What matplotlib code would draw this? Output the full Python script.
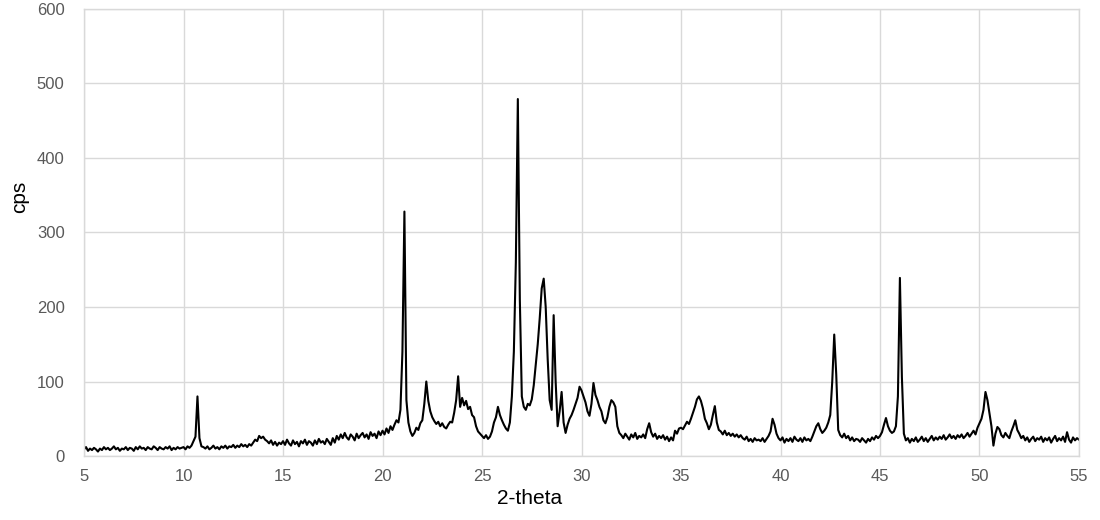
import numpy as np
import matplotlib
matplotlib.use("Agg")
import matplotlib.pyplot as plt

# XRD scan: 2-theta from 5 to 55 deg, step 0.1
scan_start = 5.0
scan_step = 0.1

# cps values, one row per degree (x.0 ... x.9)
cps = [
    9, 12, 7, 10, 8, 11, 9, 6, 10, 8,            # 5
    12, 9, 11, 8, 10, 13, 9, 11, 7, 10,          # 6
    9, 12, 8, 11, 10, 7, 12, 9, 13, 10,          # 7
    11, 8, 12, 10, 9, 13, 11, 8, 12, 10,         # 8
    9, 12, 10, 13, 8, 11, 9, 12, 10, 11,         # 9
    12, 9, 13, 11, 14, 20, 26, 80, 24, 13,       # 10
    12, 10, 13, 9, 11, 14, 10, 12, 9, 13,        # 11
    11, 14, 10, 13, 12, 15, 11, 14, 12, 16,      # 12
    13, 15, 12, 16, 14, 18, 22, 20, 27, 24,      # 13
    26, 22, 20, 17, 21, 15, 19, 14, 18, 16,      # 14
    20, 15, 22, 17, 14, 21, 16, 19, 13, 20,      # 15
    17, 22, 15, 20, 18, 14, 21, 16, 23, 18,      # 16
    20, 16, 23, 19, 15, 24, 18, 27, 22, 29,      # 17
    24, 31, 25, 22, 29, 26, 21, 30, 24, 28,      # 18
    31, 25, 29, 23, 32, 27, 30, 24, 33, 28,      # 19
    34, 29, 37, 31, 40, 35, 42, 48, 45, 62,      # 20
    140, 328, 75, 45, 33, 27, 31, 38, 35, 44,    # 21
    48, 70, 100, 74, 60, 52, 47, 43, 46, 40,     # 22
    44, 39, 37, 42, 46, 45, 58, 75, 107, 66,     # 23
    78, 68, 74, 63, 66, 55, 52, 40, 33, 30,      # 24
    27, 24, 28, 23, 26, 33, 45, 52, 66, 55,      # 25
    48, 42, 37, 34, 45, 80, 140, 260, 479, 210,  # 26
    80, 66, 62, 70, 68, 76, 95, 122, 150, 185,   # 27
    225, 238, 200, 130, 75, 62, 189, 100, 40, 60, # 28
    86, 45, 31, 42, 50, 55, 62, 70, 78, 93,      # 29
    88, 80, 72, 60, 54, 70, 98, 82, 75, 66,      # 30
    60, 48, 44, 52, 66, 75, 72, 66, 40, 31,      # 31
    28, 24, 30, 26, 22, 29, 25, 31, 23, 27,      # 32
    25, 29, 24, 36, 44, 32, 26, 30, 23, 27,      # 33
    24, 28, 22, 26, 20, 25, 21, 34, 30, 37,      # 34
    38, 36, 41, 46, 43, 50, 58, 66, 76, 80,      # 35
    74, 64, 50, 44, 36, 42, 55, 67, 45, 35,      # 36
    33, 29, 34, 28, 31, 27, 30, 26, 29, 25,      # 37
    28, 24, 22, 26, 20, 23, 19, 24, 21, 22,      # 38
    20, 24, 19, 23, 27, 33, 50, 42, 30, 24,      # 39
    21, 25, 18, 23, 20, 24, 19, 26, 22, 20,      # 40
    24, 19, 25, 21, 23, 20, 26, 33, 40, 44,      # 41
    36, 31, 34, 38, 45, 55, 100, 163, 110, 35,   # 42
    28, 25, 30, 24, 27, 21, 25, 20, 23, 22,      # 43
    19, 24, 21, 18, 23, 20, 25, 22, 27, 24,      # 44
    27, 32, 42, 51, 40, 34, 31, 33, 40, 80,      # 45
    239, 106, 30, 21, 24, 18, 23, 20, 25, 19,    # 46
    22, 26, 20, 24, 19, 23, 27, 21, 25, 22,      # 47
    26, 23, 28, 22, 25, 29, 24, 27, 23, 28,      # 48
    25, 29, 24, 27, 31, 26, 30, 34, 29, 38,      # 49
    44, 50, 62, 86, 75, 57, 40, 14, 30, 39,      # 50
    36, 28, 25, 31, 27, 24, 33, 40, 48, 35,      # 51
    30, 24, 27, 21, 25, 19, 23, 26, 20, 24,      # 52
    22, 26, 19, 24, 21, 25, 18, 23, 27, 20,      # 53
    24, 21, 26, 19, 32, 22, 18, 25, 21, 24,      # 54
    22,                                          # 55
]

two_theta = np.round(scan_start + scan_step * np.arange(len(cps)), 1)

x_ticks = [5, 10, 15, 20, 25, 30, 35, 40, 45, 50, 55]
y_ticks = [0, 100, 200, 300, 400, 500, 600]

plt.rcParams['font.family'] = ['Liberation Sans', 'DejaVu Sans']

fig = plt.figure(figsize=(11, 5.2), dpi=100)
ax = fig.add_axes([0.0764, 0.123, 0.9045, 0.860])

ax.plot(two_theta, cps, color='black', linewidth=1.5)

ax.set_xlim(5, 55)
ax.set_ylim(0, 600)
ax.set_xticks(x_ticks)
ax.set_yticks(y_ticks)
ax.grid(True, color='#d9d9d9', linewidth=1)
ax.set_axisbelow(True)
for s in ax.spines.values():
    s.set_color('#d9d9d9')
    s.set_linewidth(1)
ax.tick_params(axis='both', length=0, labelsize=12, labelcolor='#595959')
ax.tick_params(axis='y', pad=14)
ax.tick_params(axis='x', pad=9)

fig.text(20 / 1100, 1 - 197 / 520, 'cps', rotation=90, fontsize=15,
         ha='center', va='center')
fig.text(530 / 1100, 1 - 499 / 520, '2-theta', fontsize=15,
         ha='center', va='center')

fig.savefig('out.png', dpi=100)
